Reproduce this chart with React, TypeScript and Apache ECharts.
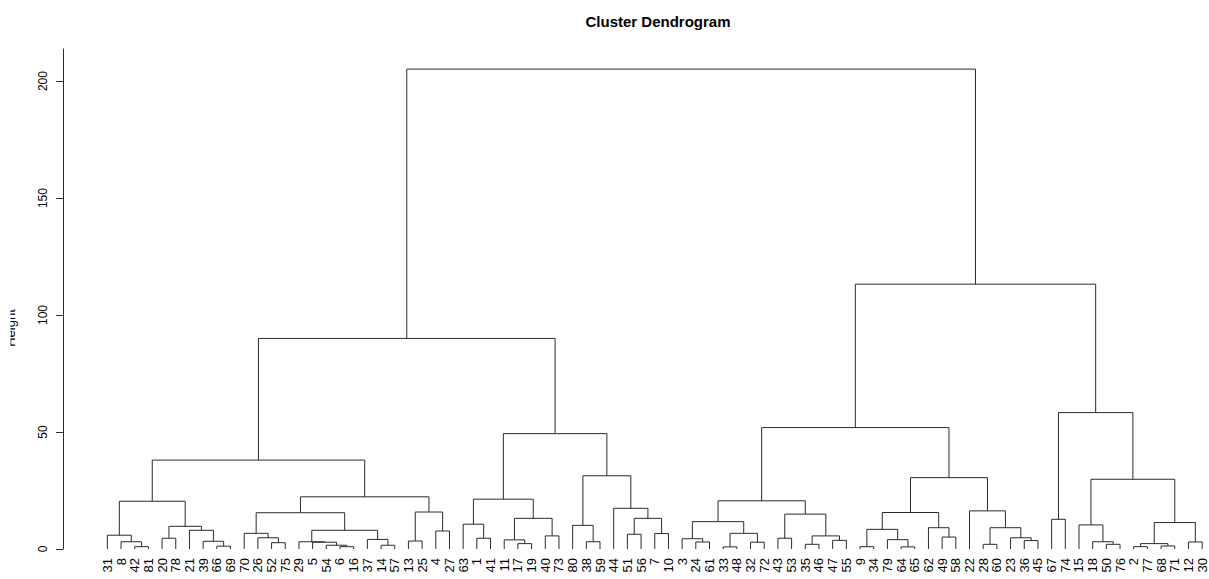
import React, { useEffect, useRef } from "react";
import * as echarts from "echarts";

// Observation numbers in the order the leaves are drawn, left to right.
const leafLabels = [
  "31", "8", "42", "81", "20", "78", "21", "39", "66", "69",
  "70", "26", "52", "75", "29", "5", "54", "6", "16", "37",
  "14", "57", "13", "25", "4", "27", "63", "1", "41", "11",
  "17", "19", "40", "73", "80", "38", "59", "44", "51", "56",
  "7", "10", "3", "24", "61", "33", "48", "32", "72", "43",
  "53", "35", "46", "47", "55", "9", "34", "79", "64", "65",
  "62", "49", "58", "22", "28", "60", "23", "36", "45", "67",
  "74", "15", "18", "50", "76", "2", "77", "68", "71", "12", "30",
];

// Agglomeration steps of the left branch: [node, left child, right child, height].
const mergesLeft: [string, string, string, number][] = [
  ["c1", "42", "81", 1.0],
  ["c2", "8", "c1", 3.1],
  ["c3", "31", "c2", 5.9],
  ["c4", "20", "78", 4.6],
  ["c5", "66", "69", 1.2],
  ["c6", "39", "c5", 3.3],
  ["c7", "21", "c6", 8.0],
  ["c8", "c4", "c7", 9.7],
  ["c9", "c3", "c8", 20.4],
  ["c10", "52", "75", 2.7],
  ["c11", "26", "c10", 4.8],
  ["c12", "70", "c11", 6.7],
  ["c13", "6", "16", 1.0],
  ["c14", "54", "c13", 1.6],
  ["c15", "5", "c14", 2.9],
  ["c16", "29", "c15", 3.1],
  ["c17", "14", "57", 1.6],
  ["c18", "37", "c17", 4.1],
  ["c19", "c16", "c18", 8.0],
  ["c20", "c12", "c19", 15.5],
  ["c21", "13", "25", 3.4],
  ["c22", "4", "27", 7.7],
  ["c23", "c21", "c22", 15.8],
  ["c24", "c20", "c23", 22.3],
  ["c25", "c9", "c24", 38.0],
  ["c26", "1", "41", 4.6],
  ["c27", "63", "c26", 10.6],
  ["c28", "17", "19", 2.3],
  ["c29", "11", "c28", 3.9],
  ["c30", "40", "73", 5.6],
  ["c31", "c29", "c30", 13.1],
  ["c32", "c27", "c31", 21.3],
  ["c33", "38", "59", 3.1],
  ["c34", "80", "c33", 10.1],
  ["c35", "51", "56", 6.3],
  ["c36", "7", "10", 6.6],
  ["c37", "c35", "c36", 13.1],
  ["c38", "44", "c37", 17.4],
  ["c39", "c34", "c38", 31.3],
  ["c40", "c32", "c39", 49.3],
  ["c41", "c25", "c40", 90.0],
];

// Agglomeration steps of the right branch, then the root.
const mergesRight: [string, string, string, number][] = [
  ["c42", "24", "61", 3.0],
  ["c43", "3", "c42", 4.4],
  ["c44", "33", "48", 0.9],
  ["c45", "32", "72", 2.9],
  ["c46", "c44", "c45", 6.7],
  ["c47", "c43", "c46", 11.7],
  ["c48", "43", "53", 4.6],
  ["c49", "35", "46", 2.0],
  ["c50", "47", "55", 3.7],
  ["c51", "c49", "c50", 5.6],
  ["c52", "c48", "c51", 14.9],
  ["c53", "c47", "c52", 20.6],
  ["c54", "9", "34", 1.0],
  ["c55", "64", "65", 0.9],
  ["c56", "79", "c55", 4.0],
  ["c57", "c54", "c56", 8.4],
  ["c58", "49", "58", 5.1],
  ["c59", "62", "c58", 9.1],
  ["c60", "c57", "c59", 15.6],
  ["c61", "28", "60", 2.0],
  ["c62", "36", "45", 3.6],
  ["c63", "23", "c62", 4.8],
  ["c64", "c61", "c63", 9.1],
  ["c65", "22", "c64", 16.3],
  ["c66", "c60", "c65", 30.5],
  ["c67", "c53", "c66", 51.9],
  ["c68", "67", "74", 12.7],
  ["c69", "50", "76", 2.0],
  ["c70", "18", "c69", 3.1],
  ["c71", "15", "c70", 10.3],
  ["c72", "2", "77", 1.0],
  ["c73", "68", "71", 1.3],
  ["c74", "c72", "c73", 2.3],
  ["c75", "12", "30", 3.0],
  ["c76", "c74", "c75", 11.3],
  ["c77", "c71", "c76", 29.8],
  ["c78", "c68", "c77", 58.3],
  ["c79", "c67", "c78", 113.2],
  ["c80", "c41", "c79", 205.1],
];

const heightTicks = [0, 50, 100, 150, 200];

const FONT = "'Liberation Sans', Arial, Helvetica, sans-serif";
const INK = "#2b2b2b";

// Each merge becomes one bracket: [x left, height left, x right, height right, merge height].
function buildBrackets(): number[][] {
  const node: Record<string, { x: number; h: number }> = {};
  leafLabels.forEach((lab, i) => {
    node[lab] = { x: i + 1, h: 0 };
  });
  const out: number[][] = [];
  for (const [id, a, b, h] of [...mergesLeft, ...mergesRight]) {
    const L = node[a];
    const R = node[b];
    node[id] = { x: (L.x + R.x) / 2, h };
    out.push([L.x, L.h, R.x, R.h, h]);
  }
  return out;
}

export default function App() {
  const ref = useRef<HTMLDivElement>(null);

  useEffect(() => {
    document.body.style.margin = "0";
    if (!ref.current) return;
    const chart = echarts.init(ref.current, null, { renderer: "svg" });
    const brackets = buildBrackets();

    chart.setOption({
      animation: false,
      backgroundColor: "#ffffff",
      title: {
        text: "Cluster Dendrogram",
        left: 653,
        top: 9,
        textAlign: "center",
        textStyle: {
          fontFamily: FONT,
          fontWeight: "bold",
          fontSize: 15,
          color: "#000",
        },
      },
      grid: {
        left: 100.5,
        right: 0,
        top: 49,
        bottom: 30,
        outerBoundsMode: "none",
      },
      xAxis: [
        {
          type: "category",
          data: leafLabels,
          boundaryGap: true,
          axisLine: { show: false },
          axisTick: { show: false },
          splitLine: { show: false },
          axisLabel: {
            interval: 0,
            rotate: 90,
            margin: 9,
            fontSize: 13,
            fontFamily: FONT,
            color: "#000",
          },
        },
        {
          type: "value",
          min: 0.5,
          max: 81.5,
          show: false,
          splitLine: { show: false },
        },
      ],
      yAxis: {
        type: "value",
        min: 0,
        max: 213.7,
        interval: 50,
        offset: 37.5,
        splitLine: { show: false },
        axisLine: { show: true, lineStyle: { color: INK, width: 1 } },
        axisTick: {
          show: true,
          length: 7,
          customValues: heightTicks,
          lineStyle: { color: INK, width: 1 },
        },
        axisLabel: {
          rotate: 90,
          margin: 14,
          fontSize: 12,
          fontFamily: FONT,
          color: "#000",
          customValues: heightTicks,
        },
      },
      graphic: [
        {
          type: "text",
          x: 17,
          y: 328,
          rotation: Math.PI / 2,
          z: 10,
          style: {
            text: "Height",
            align: "center",
            verticalAlign: "bottom",
            fontSize: 13,
            fontFamily: FONT,
            fill: "#000",
          },
        },
        {
          // the axis title runs past the left edge of the device
          type: "rect",
          x: 0,
          y: 280,
          z: 20,
          shape: { width: 10.5, height: 100 },
          style: { fill: "#ffffff" },
        },
      ],
      series: [
        {
          type: "custom",
          xAxisIndex: 1,
          yAxisIndex: 0,
          clip: false,
          encode: { x: [0, 2], y: [1, 3, 4] },
          data: brackets,
          renderItem: (_params: any, api: any) => {
            const p0 = api.coord([api.value(0), api.value(1)]);
            const p1 = api.coord([api.value(0), api.value(4)]);
            const p2 = api.coord([api.value(2), api.value(4)]);
            const p3 = api.coord([api.value(2), api.value(3)]);
            return {
              type: "polyline",
              shape: { points: [p0, p1, p2, p3] },
              style: { stroke: INK, lineWidth: 1, fill: "none" },
            };
          },
        },
      ],
    });

    return () => chart.dispose();
  }, []);

  return <div ref={ref} style={{ width: 1209, height: 579 }} />;
}
